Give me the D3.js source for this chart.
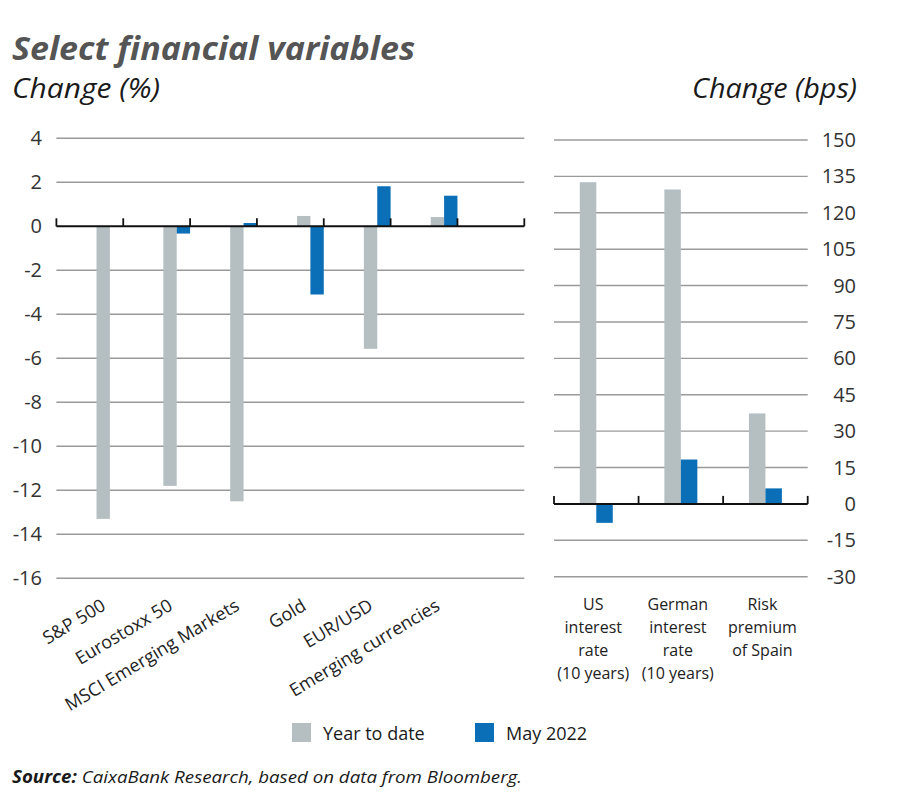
<!DOCTYPE html>
<html>
<head>
<meta charset="utf-8">
<script src="https://cdn.jsdelivr.net/npm/d3@7/dist/d3.min.js"></script>
<style>
  html, body { margin: 0; padding: 0; background: #fff; }
  svg { display: block; font-family: "Open Sans", "Noto Sans", sans-serif; }
</style>
</head>
<body>
<svg id="chart" width="900" height="808"></svg>
<script>
// ---- Data ----
const leftCategories = ["S&P 500", "Eurostoxx 50", "MSCI Emerging Markets", "Gold", "EUR/USD", "Emerging currencies"];
const leftYearToDate = [-13.3, -11.8, -12.5, 0.47, -5.57, 0.42];
const leftMay2022 = [0.0, -0.33, 0.15, -3.1, 1.82, 1.39];
const leftTicks = [4, 2, 0, -2, -4, -6, -8, -10, -12, -14, -16];

const rightCategories = ["US interest rate (10 years)", "German interest rate (10 years)", "Risk premium of Spain"];
const rightLabelLines = [["US", "interest", "rate", "(10 years)"], ["German", "interest", "rate", "(10 years)"], ["Risk", "premium", "of Spain"]];
const rightYearToDate = [132.6, 129.6, 37.3];
const rightMay2022 = [-7.8, 18.3, 6.4];
const rightTicks = [150, 135, 120, 105, 90, 75, 60, 45, 30, 15, 0, -15, -30];

const seriesNames = ["Year to date", "May 2022"];
const colors = { ytd: "#b5bfc2", may: "#0b6fb8" };

const svg = d3.select("#chart");

// ---- Titles ----
svg.append("text").attr("x", 12).attr("y", 60)
  .attr("font-size", 33).attr("font-weight", 700).attr("font-style", "italic")
  .attr("fill", "#555").attr("textLength", 403).attr("lengthAdjust", "spacingAndGlyphs")
  .text("Select financial variables");
svg.append("text").attr("x", 12).attr("y", 98)
  .attr("font-size", 28).attr("font-style", "italic").attr("fill", "#1a1a1a")
  .attr("textLength", 148).attr("lengthAdjust", "spacingAndGlyphs")
  .text("Change (%)");
svg.append("text").attr("x", 857).attr("y", 98).attr("text-anchor", "end")
  .attr("font-size", 28).attr("font-style", "italic").attr("fill", "#1a1a1a")
  .attr("textLength", 165).attr("lengthAdjust", "spacingAndGlyphs")
  .text("Change (bps)");

// ---- Left chart ----
const xL = d3.scaleBand().domain([...leftCategories, "__spacer"]).range([56.4, 524.3]).padding(0);
const yL = d3.scaleLinear().domain([-16, 4]).range([578.3, 138.3]);
const bwL = xL.bandwidth();

const gL = svg.append("g");
gL.selectAll("line.grid").data(leftTicks.filter(d => d !== 0)).join("line")
  .attr("x1", xL.range()[0]).attr("x2", xL.range()[1])
  .attr("y1", d => yL(d)).attr("y2", d => yL(d))
  .attr("stroke", "#9a9a9a").attr("stroke-width", 1.4);
gL.selectAll("text.tick").data(leftTicks).join("text")
  .attr("x", 42).attr("y", d => yL(d)).attr("dy", "0.35em")
  .attr("text-anchor", "end").attr("font-size", 20).attr("fill", "#333")
  .text(d => d);
gL.selectAll("rect.ytd").data(leftCategories).join("rect")
  .attr("x", d => xL(d) + bwL * 0.6).attr("width", bwL * 0.2)
  .attr("y", (d, i) => Math.min(yL(leftYearToDate[i]), yL(0)))
  .attr("height", (d, i) => Math.abs(yL(leftYearToDate[i]) - yL(0)))
  .attr("fill", colors.ytd);
gL.selectAll("rect.may").data(leftCategories).join("rect")
  .attr("x", d => xL(d) + bwL * 0.8).attr("width", bwL * 0.2)
  .attr("y", (d, i) => Math.min(yL(leftMay2022[i]), yL(0)))
  .attr("height", (d, i) => Math.abs(yL(leftMay2022[i]) - yL(0)))
  .attr("fill", colors.may);
gL.append("line").attr("x1", xL.range()[0]).attr("x2", xL.range()[1])
  .attr("y1", yL(0)).attr("y2", yL(0)).attr("stroke", "#111").attr("stroke-width", 2);
const tickXL = [...xL.domain().map(d => xL(d)), xL.range()[1]];
gL.selectAll("line.tk").data(tickXL).join("line")
  .attr("x1", d => d).attr("x2", d => d)
  .attr("y1", yL(0)).attr("y2", yL(0) - 8).attr("stroke", "#111").attr("stroke-width", 1.8);
gL.selectAll("text.cat").data(leftCategories).join("text")
  .attr("transform", d => `translate(${xL(d) + bwL * 0.8 - 3},609) rotate(-31)`)
  .attr("text-anchor", "end").attr("font-size", 18).attr("fill", "#222")
  .text(d => d);

// ---- Right chart ----
const xR = d3.scaleBand().domain(rightCategories).range([554, 807.7]).padding(0);
const yR = d3.scaleLinear().domain([-30, 150]).range([576.7, 140]);
const bwR = xR.bandwidth();
const gR = svg.append("g");
gR.selectAll("line.grid").data(rightTicks.filter(d => d !== 0)).join("line")
  .attr("x1", xR.range()[0]).attr("x2", xR.range()[1])
  .attr("y1", d => yR(d)).attr("y2", d => yR(d))
  .attr("stroke", "#9a9a9a").attr("stroke-width", 1.4);
gR.selectAll("text.tick").data(rightTicks).join("text")
  .attr("x", 856).attr("y", d => yR(d)).attr("dy", "0.35em")
  .attr("text-anchor", "end").attr("font-size", 20).attr("fill", "#333")
  .text(d => d);
const wR = bwR * 0.195;
gR.selectAll("rect.ytd").data(rightCategories).join("rect")
  .attr("x", d => xR(d) + bwR * 0.5 - wR).attr("width", wR)
  .attr("y", (d, i) => Math.min(yR(rightYearToDate[i]), yR(0)))
  .attr("height", (d, i) => Math.abs(yR(rightYearToDate[i]) - yR(0)))
  .attr("fill", colors.ytd);
gR.selectAll("rect.may").data(rightCategories).join("rect")
  .attr("x", d => xR(d) + bwR * 0.5).attr("width", wR)
  .attr("y", (d, i) => Math.min(yR(rightMay2022[i]), yR(0)))
  .attr("height", (d, i) => Math.abs(yR(rightMay2022[i]) - yR(0)))
  .attr("fill", colors.may);
gR.append("line").attr("x1", xR.range()[0]).attr("x2", xR.range()[1])
  .attr("y1", yR(0)).attr("y2", yR(0)).attr("stroke", "#111").attr("stroke-width", 2);
const tickXR = [...xR.domain().map(d => xR(d)), xR.range()[1]];
gR.selectAll("line.tk").data(tickXR).join("line")
  .attr("x1", d => d).attr("x2", d => d)
  .attr("y1", yR(0)).attr("y2", yR(0) - 8).attr("stroke", "#111").attr("stroke-width", 1.8);
const catR = gR.selectAll("text.cat").data(rightCategories).join("text")
  .attr("text-anchor", "middle").attr("font-size", 16).attr("fill", "#222");
catR.each(function (d, i) {
  const t = d3.select(this);
  rightLabelLines[i].forEach((line, j) => {
    t.append("tspan").attr("x", xR(d) + bwR / 2 - 3).attr("y", 610 + j * 23).text(line);
  });
});

// ---- Legend ----
const legend = svg.append("g");
const legendItems = [
  { name: seriesNames[0], color: colors.ytd, x: 292 },
  { name: seriesNames[1], color: colors.may, x: 475 }
];
legendItems.forEach(it => {
  legend.append("rect").attr("x", it.x).attr("y", 723).attr("width", 19).attr("height", 19).attr("fill", it.color);
  legend.append("text").attr("x", it.x + 31).attr("y", 740).attr("font-size", 18).attr("fill", "#1a1a1a").text(it.name);
});

// ---- Source ----
const src = svg.append("text").attr("x", 12).attr("y", 783).attr("font-size", 17).attr("fill", "#1a1a1a")
  .attr("textLength", 510).attr("lengthAdjust", "spacingAndGlyphs");
src.append("tspan").attr("font-weight", 700).attr("font-style", "italic").text("Source:");
src.append("tspan").attr("font-style", "italic").text(" CaixaBank Research, based on data from Bloomberg.");
</script>
</body>
</html>
